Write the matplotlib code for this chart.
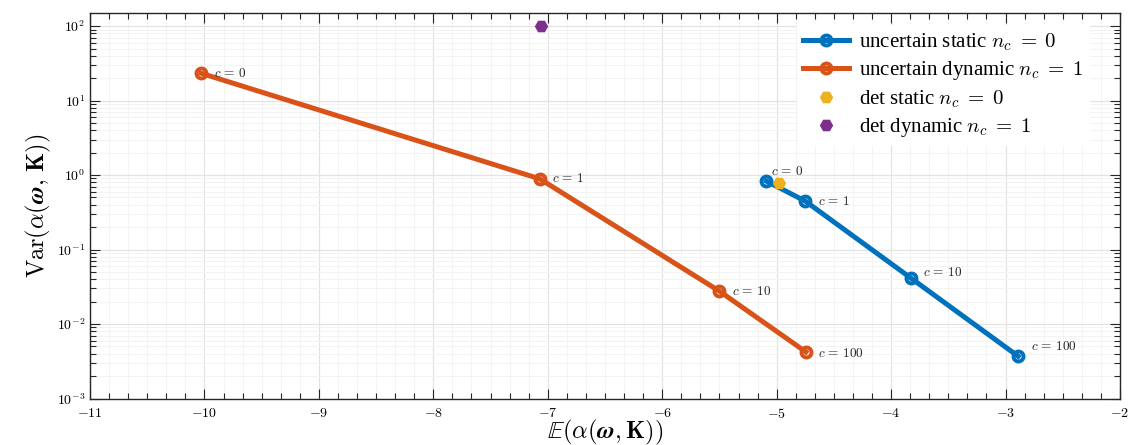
import numpy as np
import matplotlib
matplotlib.use("Agg")
import matplotlib.pyplot as plt
from matplotlib.ticker import MultipleLocator, FuncFormatter, LogLocator, NullFormatter

plt.rcParams['mathtext.fontset'] = 'cm'
plt.rcParams['font.family'] = 'serif'
plt.rcParams['font.serif'] = ['Liberation Serif', 'DejaVu Serif']

# ---- data ----
c_labels = ["0", "1", "10", "100"]
static_mean = [-5.09, -4.75, -3.83, -2.89]
static_var = [0.83, 0.447, 0.0417, 0.00369]
dynamic_mean = [-10.03, -7.07, -5.50, -4.745]
dynamic_var = [23.3, 0.89, 0.0276, 0.00422]
det_static_mean = [-4.98]
det_static_var = [0.78]
det_dynamic_mean = [-7.06]
det_dynamic_var = [100.0]

# label offsets (points) -- styling
static_offsets = [(3, 7), (9, 0), (9, 4), (9, 7)]
dynamic_offsets = [(9, 0), (9, 0), (9, 0), (9, -1)]

blue = '#0072BD'
orange = '#D95319'
yellow = '#EDB120'
purple = '#7E2F8E'

fig = plt.figure(figsize=(11.30, 4.45), dpi=100)
ax = fig.add_axes([90/1130, 1-398.5/445, (1120-90)/1130, (398.5-12.7)/445])

lw = 3.6
ms = 7.2
mew = 2.8
ax.plot(static_mean, static_var, '-o', color=blue, lw=lw, ms=ms, mew=mew,
        mfc='none', mec=blue, label=r'uncertain static $n_c\;=\;0$', zorder=4)
ax.plot(dynamic_mean, dynamic_var, '-o', color=orange, lw=lw, ms=ms, mew=mew,
        mfc='none', mec=orange, label=r'uncertain dynamic $n_c\;=\;1$', zorder=4)
ax.plot(det_static_mean, det_static_var, 'H', color=yellow, ms=8.5, mec=yellow,
        label=r'det static $n_c\;=\;0$', zorder=5)
ax.plot(det_dynamic_mean, det_dynamic_var, 'H', color=purple, ms=8.5, mec=purple,
        label=r'det dynamic $n_c\;=\;1$', zorder=5)

for x, y, lab, off in zip(static_mean, static_var, c_labels, static_offsets):
    ax.annotate(r'$c\,=\,%s$' % lab, (x, y), xytext=off, textcoords='offset points',
                ha='left', va='center', fontsize=9.5, color='#222222', zorder=6)
for x, y, lab, off in zip(dynamic_mean, dynamic_var, c_labels, dynamic_offsets):
    ax.annotate(r'$c\,=\,%s$' % lab, (x, y), xytext=off, textcoords='offset points',
                ha='left', va='center', fontsize=9.5, color='#222222', zorder=6)

ax.set_yscale('log')
ax.set_xlim(-11, -2)
ax.set_ylim(1e-3, 10**2.18)

ax.xaxis.set_major_locator(MultipleLocator(1))
ax.xaxis.set_minor_locator(MultipleLocator(1/6))
ax.xaxis.set_major_formatter(FuncFormatter(lambda v, p: r'$%d$' % round(v)))
ax.yaxis.set_major_locator(LogLocator(base=10, numticks=20))
ax.yaxis.set_minor_locator(LogLocator(base=10, subs=np.arange(2, 10), numticks=20))
ax.yaxis.set_minor_formatter(NullFormatter())
ax.yaxis.set_major_formatter(FuncFormatter(lambda v, p: r'$10^{%d}$' % round(np.log10(v))))

ax.tick_params(which='both', direction='in', top=True, right=True, color='#262626',
               labelsize=10, width=0.8)
ax.tick_params(which='major', length=7)
ax.tick_params(which='minor', length=4)
ax.tick_params(axis='x', pad=6)

ax.grid(True, which='major', color='#e3e3e3', lw=0.9)
ax.grid(True, which='minor', color='#f3f3f3', lw=0.7)
ax.set_axisbelow(True)
for s in ax.spines.values():
    s.set_color('#262626')
    s.set_linewidth(1.0)

ax.set_xlabel(r'$\mathbb{E}(\alpha(\boldsymbol{\omega},\mathbf{K}))$', fontsize=17.5, labelpad=-2)
ax.set_ylabel(r'$\mathrm{Var}(\alpha(\boldsymbol{\omega},\,\mathbf{K}))$', fontsize=17.5, labelpad=3)

leg = ax.legend(loc='upper right', bbox_to_anchor=(1 - 30/1030, 1 - 12.5/385.8),
                fontsize=15, frameon=True, fancybox=False,
                framealpha=1, edgecolor='white', handlelength=2.2, labelspacing=0.3,
                borderaxespad=0, handletextpad=0.5, borderpad=0.3)
leg.get_frame().set_linewidth(0)

fig.savefig('out.png', dpi=100)
